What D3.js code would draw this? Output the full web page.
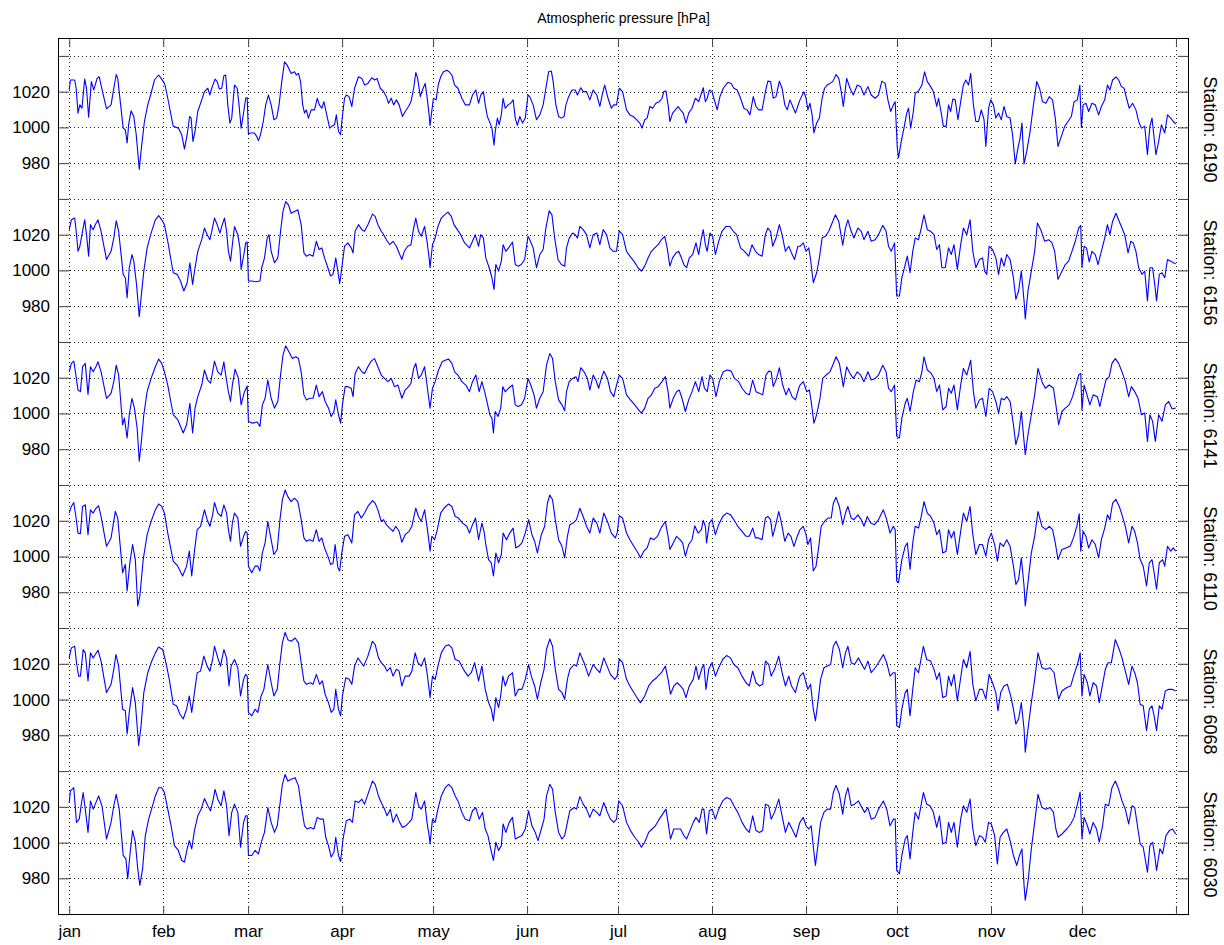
<!DOCTYPE html>
<html>
<head>
<meta charset="utf-8">
<script src="https://cdn.jsdelivr.net/npm/d3@7"></script>
<style>
  body { margin: 0; background: #fff; }
  text { font-family: "Liberation Sans", Arial, Helvetica, sans-serif; fill: #000; }
</style>
</head>
<body>
<svg id="chart" width="1224" height="945"></svg>
<script>
// ---- data ----
const stations = ["6190", "6156", "6141", "6110", "6068", "6030"];
const months = ["jan", "feb", "mar", "apr", "may", "jun", "jul", "aug", "sep", "oct", "nov", "dec"];
const monthStarts = [0, 31, 59, 90, 120, 151, 181, 212, 243, 273, 304, 334, 365];
const yTickLabels = [980, 1000, 1020];

// [day of year, pressure hPa]
const s6190 = [[0,1021],[0.4,1026.5],[1.8,1026.5],[2.3,1021.9],[2.9,1008],[3.5,1012.6],[4.2,1010.7],[5.1,1027],[5.7,1022],[6.4,1005.7],[7.3,1025.6],[8.1,1021],[9.2,1027.4],[9.9,1028.3],[10.5,1023.7],[12.3,1010.4],[13.8,1012.6],[14.7,1021.9],[15.5,1029.6],[16,1027.4],[17.8,999.6],[18.5,998.7],[19.1,991.3],[19.6,1001.5],[20.4,1009.3],[21.3,1006.1],[22.1,995.9],[23.1,976.5],[23.7,986.7],[24.8,1003.3],[25.9,1012.6],[27,1019.1],[28.1,1026.5],[29.5,1029.3],[30.3,1027.4],[31.2,1025.2],[31.6,1023.7],[32.5,1016.3],[34.3,1000.6],[36,999.6],[37.1,995.9],[38,988],[38.9,995.9],[39.7,1006.1],[40.2,1005.2],[40.8,992.2],[41.5,997.8],[42.4,1008.9],[43.7,1015.4],[44.6,1020],[45.7,1021.9],[46.4,1018.1],[47,1021.9],[48.1,1027],[48.8,1025.6],[49.5,1021.5],[50.3,1021.9],[51,1028.9],[51.6,1029.3],[52.3,1012.6],[53,1002.4],[53.6,1005.2],[54.5,1023.7],[55.4,1021.9],[56,1012.6],[56.7,999.6],[57.4,1007],[58.2,1016.3],[58.7,1016.7],[59.1,996.3],[59.8,996.9],[61.1,996.9],[61.8,995],[62.4,992.6],[63.1,995.9],[64,1003.3],[64.8,1012.6],[65.7,1018.1],[66.6,1012.6],[67.5,1004.3],[68.4,1005.2],[69.2,1012.6],[70.1,1025.6],[71,1036.7],[71.9,1034.8],[73.2,1030.2],[74.3,1031.1],[74.9,1029.3],[75.6,1030.2],[76.3,1025.6],[77,1012.6],[77.6,1008],[78.2,1009.8],[78.9,1005.2],[79.8,1009.8],[80.9,1009.8],[81.8,1016.3],[82.5,1012.6],[83.3,1010.7],[84,1014.4],[84.8,1008],[85.9,999.6],[86.6,1000.6],[87.5,1001.5],[88.1,1007],[88.8,997.8],[89.5,995.9],[89.9,1003.3],[90.8,1016.3],[91.4,1018.1],[92.3,1017.2],[93.2,1011.7],[94.1,1021.9],[95.4,1028.3],[96.5,1027.4],[97.4,1023.7],[98.5,1024.6],[99.8,1027.8],[100.7,1026.5],[101.5,1027.4],[102.6,1021.9],[103.7,1020],[104.6,1017.2],[105.3,1013.5],[106.2,1016.3],[107,1012.6],[107.9,1015.4],[108.8,1012.6],[109.9,1006.1],[110.8,1008.9],[111.9,1011.7],[112.7,1014.4],[113.6,1021.9],[114.3,1030.7],[114.9,1027.4],[115.8,1017.2],[116.5,1020.9],[117.4,1024.6],[118,1017.2],[118.7,1007],
[119,1001],[120.1,1016.3],[121,1015.4],[121.7,1023.7],[122.5,1028.3],[123.4,1031.1],[124.5,1032],[125.3,1031.1],[126.2,1029.3],[127.1,1023.7],[128.2,1021.9],[129.5,1016.3],[130.6,1012.6],[132,1012.6],[133,1018.1],[134.1,1020.9],[135,1013.5],[135.7,1018.1],[136.6,1020],[137.2,1012.6],[137.9,1006.1],[138.8,1002.4],[139.4,999.6],[140.1,990],[140.5,997.8],[141.2,1005.2],[141.8,1001.5],[142.5,1007],[143.1,1016.3],[143.8,1010.7],[144.7,1012.6],[145.6,1013.5],[146.4,1015.4],[147.1,1005.2],[147.8,1001.1],[148.6,1006.1],[149.5,1002.4],[150.4,1005.2],[151.3,1018.1],[151.9,1017.2],[153,1012.6],[154.1,1004.3],[155.2,1007],[156.3,1012.6],[157.2,1021.9],[158.1,1031.1],[159,1031.5],[159.6,1025.6],[160.5,1012.6],[161.4,1006.1],[162.3,1005.2],[163.2,1006.1],[163.8,1012.6],[164.7,1017.2],[165.8,1020.9],[166.9,1020.9],[167.6,1018.1],[168.7,1022.2],[169.5,1020],[170.6,1020],[171.7,1015.4],[172.8,1020.9],[174,1018.1],[175,1011.7],[175.9,1019.1],[176.6,1023.7],[177.7,1016.3],[178.8,1010.7],[179.6,1012.6],[180.5,1012.6],[181.4,1021.9],[182.5,1020],[183.8,1009.8],[184.9,1007],[186,1006.1],[187.1,1004.3],[188.2,1002.4],[188.9,999.6],[189.8,1004.3],[190.6,1005.2],[191.5,1011.7],[192.4,1010.7],[193.5,1013.5],[194.6,1014.4],[195.5,1016.3],[196.1,1020],[196.8,1020.4],[197.5,1012.6],[198.1,1003.3],[199,1008],[199.9,1009.8],[200.8,1011.7],[201.6,1009.8],[202.5,1008],[203.4,1002.4],[204.3,1008],[205.4,1010.7],[206.5,1016.3],[207.6,1014.4],[208.5,1019.1],[209.1,1022.2],[209.8,1014.4],[210.4,1016.3],[211.1,1020.9],[212,1020],[212.6,1016.3],[213.7,1009.8],[214.6,1017.2],[215.7,1021.9],[217.2,1025.2],[218.3,1024.6],[219.2,1021.9],[220.3,1020.9],[221.4,1016.3],[222.5,1010.7],[223.6,1009.8],[224.5,1007],[225.6,1017.2],[226.5,1011.7],[227.4,1009.8],[228.5,1009.8],[229.6,1020],[230.4,1025.9],[231.3,1025.6],[232.2,1016.3],[233.1,1017.2],[234.2,1025.9],[235.1,1021.9],[236,1012.6],[236.8,1009.8],[237.7,1015.4],[238.6,1011.7],[239.5,1008],[240.6,1013.5],
[241,1015.4],[242.3,1020],[243,1016.3],[243.6,1009.8],[244.3,1013.5],[245,1007],[245.6,996.9],[246.5,1002.4],[247.4,1005.2],[248.3,1016.3],[249.1,1021.9],[250,1023.7],[250.9,1024.6],[251.8,1025.6],[252.9,1029.6],[253.8,1027.4],[254.6,1020],[255.3,1011.7],[256.4,1027.4],[257.5,1021.9],[258.6,1018.1],[259.9,1023.7],[261,1022.8],[262.1,1018.1],[263.4,1022.8],[264.5,1018.1],[265.8,1016.3],[266.9,1018.1],[268,1025.9],[269.1,1024.6],[270,1015.4],[270.9,1008.9],[271.8,1012.6],[272.4,1014.4],[273.1,988.5],[273.5,983],[274.4,992.2],[275.3,999.6],[276.2,1008],[276.8,1010.7],[277.5,999.6],[278.4,1008.9],[279,1019.1],[280.1,1020.4],[281.2,1023.7],[282.1,1031.1],[283,1025.6],[284.1,1022.8],[285,1020],[286.1,1011.7],[286.7,1016.3],[287.6,1008],[288.3,1000.6],[289.2,1000.6],[290,1012.6],[290.7,1008.9],[291.4,1015.9],[292.2,1015.4],[293.1,1004.3],[294,1014.4],[294.9,1023.7],[295.7,1026.5],[296.6,1023.7],[297.3,1030.2],[298.2,1012.6],[299,1003.3],[299.9,1003.3],[300.8,1009.8],[301.7,1004.3],[302.3,989.4],[303.2,1010.7],[303.9,1015.4],[304.8,1012.6],[305.6,1005.2],[306.5,1008],[307.4,1004.3],[308.3,1011.7],[309.2,1006.1],[310.3,1005.2],[311.1,996],[312,979.6],[312.9,988.5],[313.6,994.1],[314.2,1002.4],[314.9,979.6],[315.8,986.7],[316.9,997.8],[318,1012.6],[319.1,1025.6],[320,1021.9],[321,1014.4],[322.1,1013.5],[323.2,1017.2],[324.3,1015.4],[325.2,1005.2],[326.1,989.4],[327.2,995],[328.3,1000.6],[329.4,1003.3],[330.5,1006.1],[331.4,1014.4],[332.5,1015.4],[333.3,1023.7],[333.8,1000],[334.4,1012.6],[335.3,1013.5],[336.2,1008.9],[337.3,1013.5],[338.4,1012.6],[339.5,1007],[340.4,1011.7],[341.5,1015.4],[342.4,1023.7],[343.2,1020.9],[344.1,1026.5],[345.2,1028.3],[346.1,1026.5],[347,1022.8],[347.9,1021.9],[348.7,1016.3],[349.6,1010.7],[350.7,1013.5],[351.8,1009.8],[352.7,1003.3],[353.6,999.6],[354.7,1000.6],[355.6,984.8],[356.4,1000.6],[357.1,1005.2],[357.8,994.1],[358.4,984.8],[359.3,992.2],[360.2,1001.5],[361.3,996.9],[362.2,1007],[363.3,1005.2],[364.1,1003.3],[364.9,1001.9]];

const s6156 = [[0,1022.8],[0.7,1028.3],[1.8,1029.3],[2.3,1021.9],[2.9,1010.7],[3.5,1013.5],[4.2,1020],[5.1,1028.3],[5.7,1020],[6.4,1008],[7,1025.6],[7.9,1022.8],[8.6,1025.6],[9.5,1028.3],[10.5,1021.9],[12.3,1006.1],[13.8,1010.7],[14.7,1018.1],[15.5,1027.8],[16.3,1021.9],[17.8,997.8],[18.5,995.9],[19.1,984.8],[19.8,1001.5],[20.7,1008.9],[21.3,1005.2],[22.2,992.2],[23.1,974.1],[23.7,984.8],[24.6,999.6],[25.7,1012.6],[27,1020.9],[28.4,1028.3],[29.5,1030.7],[30.5,1028.3],[31.4,1025.6],[32.5,1016.3],[34.3,998.7],[35.6,997.8],[36.7,994.1],[37.8,988.5],[38.9,993.1],[39.8,1004.3],[40.7,992.2],[41.5,1001.5],[42.4,1010.7],[43.7,1017.2],[44.6,1023.7],[45.5,1020],[46.4,1017.2],[47,1021.9],[47.9,1029.3],[48.8,1025.6],[49.7,1020.9],[50.3,1024.6],[51.2,1029.3],[51.9,1021.9],[52.5,1010.7],[53.2,1005.2],[53.8,1014.4],[54.5,1024.6],[55.6,1020],[56.3,1012.6],[56.7,1000.6],[57.6,1008.9],[58.2,1015.4],[58.7,1015.9],[59.1,994.1],[60.2,994.1],[61.5,993.7],[62.9,994.1],[63.5,1001.5],[64.4,1007],[65.3,1018.1],[65.9,1020],[66.6,1010.7],[67.7,1004.3],[68.8,1007],[69.7,1021.9],[70.5,1033],[71.4,1038.5],[72.3,1036.7],[73.2,1032],[74.3,1033],[75.4,1033.9],[76.5,1025.6],[77.4,1009.8],[78.2,1008],[79.3,1008.9],[80.4,1008],[81.5,1016.3],[82.4,1011.7],[83.3,1012.6],[84.2,1007],[85.3,1001.5],[86.2,996.9],[87,997.8],[87.9,1007],[88.6,999.6],[89.2,992.6],[89.9,1001.5],[90.8,1013.5],[91.9,1015.4],[93,1012.6],[93.6,1009.8],[94.3,1021.9],[95.4,1025.6],[96.5,1022.8],[97.4,1021.9],[98.5,1025.6],[100,1031.5],[100.9,1030.2],[101.8,1025.6],[102.9,1021.9],[103.7,1020],[104.6,1017.2],[105.7,1014.4],[106.8,1016.3],[107.9,1013.5],[109,1008.9],[109.7,1006.1],[110.5,1010.7],[111.6,1013.5],[112.7,1014.4],[113.6,1023.7],[114.3,1029.3],[115.2,1021.9],[116.1,1019.1],[117.2,1024.6],[118,1016.3],[118.7,1007],
[119,1001.5],[119.8,1014.4],[120.7,1018.1],[121.6,1024.6],[122.7,1029.3],[123.8,1031.1],[124.9,1032.6],[126,1030.2],[126.9,1025.6],[128,1022.8],[129.1,1020],[130.4,1015.4],[132,1012.6],[133,1016.3],[133.9,1020],[135,1013.5],[135.7,1020],[136.6,1018.1],[137.4,1007],[138.5,1001.5],[139.4,995.9],[140.1,989.4],[140.7,1003.3],[141.6,999.6],[142.5,1005.2],[143.1,1014.4],[144,1010.7],[144.9,1012.6],[146.2,1015.9],[147.1,1003.3],[148,1002.4],[149.1,1003.3],[150.2,1006.1],[151.3,1019.1],[151.9,1017.2],[153,1012.6],[154.1,1001.5],[155.2,1008.9],[156.3,1011.7],[157.2,1023.7],[158.3,1033.3],[159.2,1031.1],[160.1,1018.1],[161.2,1006.1],[162.3,1003.3],[163.4,1002.4],[164,1012.6],[164.9,1018.1],[166,1020.9],[166.9,1020],[167.6,1018.1],[168.4,1024.6],[169.5,1022.8],[170.6,1020],[171.7,1012.6],[172.8,1020],[174,1020.9],[175,1014.4],[176.1,1022.8],[177.2,1020],[178.3,1012.6],[179.4,1010.7],[180.5,1010.7],[181.4,1022.2],[182.5,1020],[183.8,1010.7],[184.9,1008],[186.2,1005.2],[187.6,1001.5],[188.7,999.6],[189.8,1002.4],[190.9,1007],[192,1010.7],[193.1,1012.6],[194.2,1014.4],[195.3,1017.2],[196.4,1019.1],[197.2,1012.6],[198.1,1002.4],[199,1007],[200.1,1009.8],[201,1010.7],[201.9,1007],[202.7,1003.3],[203.6,1001.5],[204.5,1007],[205.6,1008.9],[206.7,1015.4],[207.6,1008.9],[208.5,1018.1],[209.1,1022.8],[209.8,1014.4],[210.4,1010.7],[211.3,1020.9],[212.2,1019.1],[213.1,1008.9],[214.2,1016.3],[215.3,1021.9],[216.6,1024.6],[217.9,1024.6],[219,1021.9],[220.1,1020],[221.4,1012.6],[222.7,1010.7],[224.1,1008],[225.2,1014.4],[226.3,1010.7],[227.4,1008.9],[228.5,1008],[229.6,1020],[230.4,1023.7],[231.3,1021.9],[232,1013.5],[233.1,1018.1],[234.2,1025.6],[235.1,1020],[236.2,1010.7],[237.3,1013.5],[238.2,1009.8],[239.2,1006.1],[240.3,1013.5],
[241,1013.5],[242.1,1015.4],[243,1010.7],[243.9,1012.6],[244.5,1006.1],[245.4,993.1],[246.5,998.7],[247.4,1007],[248.3,1018.1],[249.4,1019.1],[250.5,1021.9],[251.6,1026.5],[252.7,1031.1],[253.8,1027.4],[255.1,1014.1],[256,1023.7],[256.8,1028.3],[257.9,1021.9],[258.8,1018.1],[260.1,1023.7],[261.2,1021.9],[262.1,1017.2],[263.4,1021.9],[264.5,1016.3],[265.8,1017.2],[266.9,1020],[268.3,1025.2],[269.4,1021.9],[270.2,1013.5],[271.1,1010.7],[272.2,1015.4],[272.9,985.7],[273.8,985.7],[274.6,995.9],[275.7,1003.3],[276.4,1008],[277.3,998.7],[278.2,1010.7],[279,1018.1],[280.1,1017.2],[281,1023.7],[281.9,1031.1],[283,1022.8],[284.1,1021.9],[285.2,1020],[286.1,1011.7],[287,1014.4],[287.8,1001.5],[288.9,1001.5],[290,1012.6],[290.9,1008.9],[291.8,1014.4],[292.9,1000.6],[294,1014.4],[294.9,1023.7],[296,1020],[297.1,1028.3],[298,1010.7],[299,1001.5],[300.2,1006.1],[301.2,1007],[301.9,999.6],[302.6,997.8],[303.4,1013.5],[304.5,1011.7],[305.6,1007],[306.5,997.8],[307.4,1007],[308.3,1002.4],[309.2,1008.9],[310.3,1006.1],[311.4,995.9],[312.2,983.9],[313.1,988.5],[314,999.6],[314.9,983],[315.3,972.8],[316.2,988.5],[317.3,999.6],[318.4,1010.7],[319.3,1026.5],[320.4,1022.8],[321.7,1016.3],[323,1017.2],[324.1,1015.4],[325,1010.7],[326.1,995],[327.4,999.6],[328.5,1003.3],[329.6,1005.2],[330.7,1010.7],[331.8,1016.3],[332.9,1023.7],[333.6,1025.2],[334,1001.5],[334.7,1013.5],[335.5,1012.6],[336.4,1004.8],[337.3,1010.7],[338.4,1008.9],[339.3,1003.3],[340.4,1010.7],[341.5,1018.1],[342.4,1025.6],[343.2,1020],[344.1,1027.4],[345.2,1032],[346.3,1027.4],[347.2,1023.7],[348.1,1020],[349.2,1009.8],[350.1,1016.3],[350.9,1015.4],[351.8,1010.7],[352.7,1001.5],[353.8,997.8],[354.7,999.6],[355.6,983],[356.4,1001.5],[357.3,1001.5],[358,992.2],[358.6,983],[359.5,997.8],[360.4,998.7],[361.3,995.9],[362.2,1006.1],[363.3,1005.2],[364.1,1004.3],[364.9,1003.7]];

const s6141 = [[0,1023.3],[0.7,1028],[1.5,1029.3],[2.2,1021.5],[2.9,1013.1],[3.7,1012.2],[4.4,1026.1],[5.3,1028],[6.2,1010.7],[7,1026.1],[7.9,1023.3],[8.8,1026.1],[9.5,1028.9],[10.5,1023.3],[12.3,1008.5],[13.8,1011.3],[14.7,1017.8],[15.5,1027],[16.3,1021.5],[17.6,993.7],[18.2,997.4],[19.1,986.3],[19.8,999.3],[20.7,1008.5],[21.5,1003],[22.4,991.9],[23.1,973.3],[23.7,982.6],[24.6,999.3],[25.7,1012.2],[27,1019.6],[28.4,1026.1],[29.5,1030.4],[30.5,1028],[31.4,1023.3],[32.5,1015.9],[34.3,999.3],[35.8,996.5],[37.6,989.1],[38.7,993.7],[39.8,1005.7],[40.7,989.1],[41.5,1003],[42.4,1009.4],[43.7,1015.9],[44.6,1024.3],[45.7,1018.7],[46.6,1016.9],[47.3,1023.3],[47.9,1029.3],[49,1023.3],[50.1,1021.5],[51,1028.9],[51.6,1021.5],[52.5,1012.2],[53.2,1006.7],[53.8,1015.9],[54.7,1024.8],[55.8,1019.6],[56.7,1004.8],[57.8,1012.2],[58.7,1015.4],[59.1,995.6],[60.4,994.6],[62,995.2],[62.9,992.8],[63.7,1004.8],[64.6,1008.5],[65.5,1018.7],[66.6,1008.5],[67.7,1003],[68.8,1006.7],[69.7,1021.5],[70.5,1032.6],[71.4,1037.8],[72.5,1034.4],[73.6,1030.7],[74.7,1031.7],[75.6,1030.7],[76.5,1023.3],[77.4,1010.4],[78.2,1007.6],[79.3,1008.5],[80.4,1008.5],[81.5,1015.9],[82.4,1009.4],[83.5,1012.2],[84.4,1006.7],[85.5,1003],[86.4,998.3],[87.3,1001.1],[87.9,1007.6],[88.8,999.3],[89.5,994.6],[90.1,1004.8],[91,1015],[91.9,1015],[93,1014.1],[93.6,1009.4],[94.3,1022.4],[95.4,1026.1],[96.5,1023.3],[97.4,1022.4],[98.5,1026.1],[99.6,1029.3],[100.7,1030.7],[101.8,1026.1],[102.9,1021.5],[104,1019.6],[105.1,1017.8],[106.2,1019.6],[107.3,1015],[108.4,1015.9],[109.7,1008.5],[110.8,1013.1],[111.9,1015],[112.7,1016.9],[113.6,1025.2],[114.3,1028],[115.2,1019.6],[116.1,1021.5],[117.2,1026.1],[118,1015.9],[118.7,1006.7],
[119,1003],[119.8,1014.1],[120.7,1017.8],[121.8,1024.3],[123,1028.9],[124,1029.8],[125.1,1030.4],[126.2,1028],[127.1,1023.3],[128.2,1021.5],[129.5,1017.8],[130.8,1015.9],[132,1012.2],[133,1017.8],[134.1,1021.5],[135.2,1012.2],[136.1,1017.8],[137,1012.2],[137.9,1005.7],[138.7,999.3],[139.4,997.4],[139.9,989.1],[140.5,1001.1],[141.4,998.3],[142.3,1003],[143,1015],[143.8,1012.2],[144.9,1014.1],[146.2,1015.9],[147.1,1004.8],[148,1003.9],[149.1,1004.8],[150.2,1008.5],[151.3,1019.6],[152.2,1015.9],[153.3,1010.4],[154.1,1003],[155.2,1008.5],[156.3,1012.2],[157.4,1027],[158.5,1033.5],[159.4,1030.7],[160.3,1017.8],[161.4,1007.6],[162.5,1004.8],[163.4,1001.5],[164,1012.2],[164.9,1017.8],[166,1019.6],[167.1,1020.6],[167.8,1017.8],[168.7,1025.6],[169.8,1023.3],[170.9,1019.6],[171.7,1013.1],[172.8,1021.5],[173.7,1018.7],[174.6,1014.1],[175.5,1019.6],[176.3,1023.7],[177.5,1019.6],[178.5,1012.2],[179.6,1009.4],[180.5,1015.9],[181.4,1021.5],[182.5,1019.6],[183.8,1010.4],[185.1,1007.6],[186.5,1004.8],[187.8,1002],[188.7,1000.2],[189.8,1003],[190.9,1008.5],[192,1010.4],[193.1,1014.1],[194.2,1015],[195.5,1017.8],[196.6,1020.6],[197.5,1012.2],[198.1,1003],[199.2,1008.5],[200.3,1012.2],[201.2,1013.1],[202.1,1008.5],[203.2,1001.1],[204.3,1007.6],[205.4,1012.2],[206.5,1017.8],[207.6,1012.2],[208.7,1020.6],[209.5,1014.1],[210.4,1012.2],[211.3,1021.5],[212.2,1019.6],[213.3,1009.4],[214.4,1017.8],[215.7,1023.3],[217,1024.3],[218.3,1023.7],[219.4,1019.6],[220.8,1017.8],[221.9,1014.1],[223.2,1011.3],[224.3,1010.4],[225.4,1018.7],[226.5,1012.2],[227.6,1011.3],[228.7,1010.4],[229.8,1021.5],[230.7,1023.7],[231.5,1023.3],[232.2,1015],[233.3,1019.6],[234.2,1025.6],[235.3,1015.9],[236.4,1010.4],[237.3,1014.1],[238.4,1009.4],[239.5,1007.6],[240.6,1014.1],
[241,1015.9],[242.1,1017.8],[243.2,1012.2],[244.1,1013.1],[244.7,1006.7],[245.6,994.6],[246.5,999.3],[247.6,1008.5],[248.5,1019.6],[249.6,1021.5],[250.9,1023.3],[251.8,1027],[252.9,1031.7],[254,1028],[255.3,1015],[256.4,1026.1],[257.5,1022.4],[258.6,1019.6],[259.9,1023.3],[261,1021.5],[262.1,1017.8],[263.4,1023.3],[264.5,1018.7],[265.8,1019.6],[266.9,1021.5],[268.3,1027],[269.4,1023.3],[270.2,1014.1],[271.1,1012.2],[272.2,1015.9],[272.9,987.2],[273.8,986.3],[274.6,997.4],[275.7,1005.7],[276.4,1008.5],[277.3,1001.1],[278.4,1012.2],[279.3,1018.7],[280.4,1017.8],[281.2,1023.3],[281.9,1031.7],[283,1024.3],[284.3,1022.4],[285.2,1019.6],[286.1,1012.2],[287,1015.9],[288.1,1002],[289.2,1003.9],[290,1014.1],[290.9,1011.3],[291.8,1015.9],[292.9,1002],[294,1015.9],[294.9,1025.2],[296,1021.5],[297.3,1029.8],[298.2,1012.2],[299,1003],[300.2,1007.6],[301.2,1008.5],[302.3,998.3],[303.4,1014.1],[304.5,1012.2],[305.6,1006.7],[306.5,1000.2],[307.4,1008.5],[308.3,1007.6],[309.2,1009.4],[310.3,1006.7],[311.4,993.7],[312.2,982.6],[313.1,988.1],[314,1001.1],[314.9,984.4],[315.3,977],[316.2,988.1],[317.3,999.3],[318.4,1010.4],[319.5,1025.2],[320.8,1017.8],[321.9,1014.1],[323.2,1015.9],[324.6,1014.1],[325.4,1004.8],[326.3,993.7],[327.4,1001.1],[328.5,1003],[329.8,1004.8],[330.9,1009.4],[332,1015.9],[332.9,1021.5],[333.6,1022.4],[334,1002],[334.7,1015.9],[335.5,1011.3],[336.6,1004.8],[337.7,1010.4],[339.1,1009.4],[339.9,1003.9],[341,1012.2],[341.9,1018.7],[343,1020.6],[343.9,1028],[345,1030.7],[346.1,1028],[347.2,1023.3],[348.3,1017.8],[349.4,1009.4],[350.3,1015],[351.4,1012.2],[352.5,1008.5],[353.6,999.3],[354.7,1000.2],[355.6,984.4],[356.4,999.3],[357.3,995.6],[358.2,984.4],[359.3,999.3],[360.4,995.6],[361.5,1004.8],[362.6,1006.7],[363.7,1002.6],[364.9,1003]];

const s6110 = [[0,1024.3],[0.7,1028],[1.5,1030.2],[2.2,1022.4],[2.9,1013.1],[3.7,1012.8],[4.4,1028],[5.3,1028.9],[6.2,1012.2],[7,1026.1],[7.9,1024.3],[8.8,1027],[9.7,1028.3],[10.5,1022.4],[12.3,1005.7],[13.8,1010.4],[15.2,1025.2],[16,1021.5],[17.6,990.9],[18.5,995.6],[19.1,980.7],[20,996.5],[20.9,1006.7],[21.8,998.3],[22.6,972.4],[23.3,978],[24.4,998.3],[25.7,1012.2],[27,1019.6],[28.4,1026.1],[29.5,1029.4],[30.5,1028],[31.4,1024.3],[32.5,1013.1],[34.3,997.4],[35.8,994.6],[37.4,989.1],[38.7,994.6],[39.6,1003],[40.4,989.1],[41.3,1003],[42.2,1015],[43.3,1016.9],[44.6,1026.1],[45.5,1020.6],[46.4,1016.9],[47.3,1023.3],[47.9,1030.2],[49,1024.3],[50.1,1022.4],[51,1028.9],[51.9,1024.3],[52.5,1015],[53.2,1008.5],[53.8,1018.7],[54.5,1024.3],[55.6,1021.5],[56.5,1005.7],[57.5,1011.3],[58.2,1014.1],[58.7,1013.1],[59.1,994.6],[60.2,990.9],[61.3,994.6],[62.2,994.6],[62.9,991.9],[63.7,1002],[64.6,1007.6],[65.5,1019.6],[66.6,1009.4],[67.5,1001.1],[68.6,1003.9],[69.5,1020.6],[70.3,1031.7],[71.2,1037.2],[72.1,1033.5],[73.2,1030.7],[74.3,1032.6],[75.4,1030.7],[76.5,1020.6],[77.4,1010.4],[78.2,1008.5],[79.3,1009.4],[80.4,1008.5],[81.5,1015],[82.4,1008.5],[83.3,1010.4],[84.2,1004.8],[85.3,1000.2],[86.2,995.6],[87,996.1],[87.7,1006.7],[88.6,993.7],[89.2,991.9],[89.9,1002],[90.8,1011.3],[91.9,1012.2],[93.2,1007.6],[94.1,1023.3],[95.2,1025.2],[96.3,1021.5],[97.4,1024.3],[98.5,1028],[100,1031.3],[100.9,1029.8],[101.8,1026.1],[102.9,1019.6],[103.7,1020.6],[104.6,1017.8],[105.7,1015.9],[106.8,1014.1],[107.7,1016.9],[108.8,1014.1],[109.7,1008],[110.8,1012.2],[112.1,1014.1],[113,1016.9],[114.3,1027],[115.2,1022.4],[116.1,1019.6],[117.2,1026.1],[118,1016.9],[118.7,1007.6],
[119,1003],[119.6,1011.3],[120.5,1009.4],[121.4,1015],[122.5,1024.3],[123.6,1027],[125.1,1029.4],[126.2,1028],[127.3,1022.4],[128.4,1021.5],[129.7,1018.7],[131.1,1016.9],[132,1013.1],[133,1017.8],[134,1021.5],[135,1009.4],[136.1,1018.7],[136.8,1014.1],[137.4,1006.7],[138.3,998.3],[139.2,996.5],[139.9,989.1],[140.7,1002],[141.6,996.5],[142.5,1001.1],[143.1,1013.1],[144.2,1009.4],[145.3,1013.1],[146.4,1015.9],[147.3,1004.8],[148.2,1005.7],[149.3,1007.6],[150.4,1013.1],[151.5,1020.6],[152.6,1012.2],[153.5,1008.5],[154.4,1002],[155.7,1012.2],[156.8,1016.9],[157.7,1029.8],[158.5,1034.4],[159.4,1031.7],[160.3,1020.6],[161.4,1009.4],[162.5,1005.7],[163.4,999.3],[164.3,1011.3],[165.1,1017.8],[166.2,1018.7],[167.3,1020.6],[168.4,1027],[169.5,1022.4],[170.6,1016.9],[171.7,1013.1],[172.8,1021.5],[174,1018.7],[175,1013.1],[176.3,1024.3],[177.7,1018.7],[178.8,1013.1],[180.1,1010.4],[180.7,1013.1],[181.4,1022.8],[182.5,1021.5],[183.8,1013.1],[184.9,1009.4],[186.2,1005.7],[187.6,1002],[188.4,999.3],[189.5,1003],[190.6,1004.8],[191.7,1010.4],[192.8,1009.4],[194,1011.3],[195.3,1016.3],[196.6,1019.6],[197.5,1011.3],[198.1,1003.9],[199.2,1007.6],[200.3,1011.3],[201.4,1009.4],[202.3,1007.6],[203.2,1000.2],[204.3,1006.7],[205.4,1009.4],[206.3,1017.2],[207.4,1013.1],[208.5,1015],[209.1,1020.2],[209.8,1016.9],[210.2,1007.6],[211.1,1018.7],[212,1020.6],[213.1,1012.2],[214.2,1017.8],[215.5,1022.4],[216.8,1024.3],[218.1,1023.3],[219.2,1020.6],[220.5,1016.9],[221.9,1014.1],[223.2,1011.3],[224.3,1011.3],[225.4,1015.9],[226.3,1010.4],[227.4,1010.4],[228.5,1009.4],[229.6,1021.5],[230.4,1022.4],[231.3,1020.6],[232,1011.3],[232.9,1016.9],[234,1025.2],[234.9,1018.7],[236,1008.5],[237.1,1013.1],[238,1011.3],[239,1005.7],[240.1,1011.3],
[241,1015],[242.1,1016.9],[243,1012.2],[243.6,1006.7],[244.5,1010.4],[245.4,991.9],[246.3,994.6],[247.2,1005.7],[248,1016.9],[249.1,1019.6],[250.2,1021.5],[251.3,1021.5],[252,1029.8],[252.9,1033.1],[254,1028],[255.1,1017.8],[256,1024.3],[256.8,1028],[257.9,1021.5],[258.8,1020.6],[260.1,1023.3],[261.2,1020.6],[262.1,1016.9],[263.2,1022.4],[264.3,1018.7],[265.6,1017.8],[266.9,1020.6],[268.5,1026.1],[269.6,1020.6],[270.7,1013.1],[271.8,1016.9],[272.4,1015],[272.9,986.3],[273.5,985.4],[274.6,998.3],[275.7,1005.7],[276.4,1007.6],[277.3,992.8],[278.2,1007.6],[279,1016.9],[280.1,1015.9],[281,1022.4],[281.9,1030.7],[283,1024.3],[284.1,1022.4],[285.2,1018.7],[286.1,1012.2],[287,1015],[288.1,1002],[289.2,1003],[290,1015],[290.9,1010.4],[291.8,1014.1],[292.9,1001.1],[294,1014.1],[294.9,1024.3],[296,1019.6],[297.1,1028],[298,1012.2],[299,1001.1],[300.2,1006.7],[301.2,1006.7],[302.3,1000.2],[303.2,1009.4],[304.1,1013.1],[305.2,1006.7],[306.1,997.4],[307,1007.6],[308.1,1005.7],[309.2,1009.4],[310.3,1005.7],[311.4,994.6],[312.2,984.4],[313.1,987.2],[314,999.3],[314.9,983.5],[315.3,972.4],[316.2,985.4],[317.3,1002],[318.4,1011.3],[319.5,1025.2],[320.8,1016.9],[322.1,1015],[323.2,1016.9],[324.3,1015],[325.2,1007.6],[326.1,998.3],[327.4,1003.9],[328.7,1004.8],[330.1,1005.7],[331.2,1010.4],[332.3,1016.9],[333.1,1023.9],[333.6,1003],[334.4,1014.1],[335.3,1011.3],[336.2,1004.8],[337.3,1009.4],[338.4,1006.7],[339.5,999.3],[340.4,1009.4],[341.5,1015.9],[342.4,1023.3],[343.2,1020.6],[344.1,1029.8],[345.2,1032],[346.3,1028],[347.2,1023.3],[348.3,1016.9],[349.4,1007.6],[350.5,1016.9],[351.4,1014.1],[352.3,1007.6],[353.2,998.3],[354.2,994.6],[355.3,983.5],[356.2,996.5],[357.1,998.3],[357.8,990.9],[358.6,981.7],[359.5,996.5],[360.6,998.3],[361.3,994.6],[362.2,1005.7],[363.3,1003],[364.1,1004.8],[364.9,1003]];

const s6068 = [[0,1023.3],[0.7,1028.9],[1.8,1029.8],[2.4,1020.6],[3.1,1013.1],[3.7,1013.1],[4.6,1028],[5.3,1026.1],[6.2,1010.4],[7,1026.1],[7.9,1023.3],[8.6,1025.2],[9.5,1027.6],[10.5,1021.5],[12.3,1003.9],[13.8,1008.5],[14.7,1016.9],[15.4,1025.2],[16.3,1018.7],[17.6,994.6],[18.5,993.7],[19.1,980.7],[19.8,992.8],[20.9,1006.7],[21.8,998.3],[22.9,974.3],[23.7,985.4],[24.6,1003.9],[25.9,1015],[27,1020.6],[28.4,1026.1],[29.5,1029.4],[30.8,1028],[31.9,1020.6],[33,1011.3],[34.3,997.4],[35.4,996.5],[36.5,991.9],[37.6,989.1],[38.7,994.6],[39.6,1002],[40.4,992.8],[41.3,1003.9],[42.2,1015],[43.3,1015.9],[44.4,1024.3],[45.5,1018.7],[46.4,1015.9],[47.3,1022.4],[47.9,1029.8],[49,1023.3],[49.9,1018.7],[51,1028],[51.9,1023.3],[52.7,1007.6],[53.4,1018.7],[54.5,1022.4],[55.6,1017.8],[56.5,1002],[57.5,1011.3],[58.2,1014.1],[58.7,1013.1],[59.1,992.8],[60.2,990.9],[61.3,994.6],[62.2,992.8],[63.3,1002],[64.2,1005.7],[65.5,1019.6],[66.6,1009.4],[67.5,1002],[68.6,1005.7],[69.5,1020.6],[70.3,1031.7],[71.2,1037.6],[72.1,1033.5],[73.2,1032.6],[74.5,1034.4],[75.6,1031.7],[76.5,1020.6],[77.4,1010.4],[78.2,1008.5],[79.6,1009.4],[80.4,1008.5],[81.5,1014.1],[82.6,1008.5],[83.5,1010.4],[84.4,1003],[85.5,998.3],[86.4,992.8],[87.3,994.6],[87.9,1005.7],[88.8,994.6],[89.5,990.9],[90.1,1002],[91.2,1012.2],[92.3,1011.3],[93.2,1008.5],[94.1,1018.7],[95.2,1023.3],[96.3,1020.6],[97.1,1018.7],[98.5,1024.3],[100,1032.6],[100.9,1030.7],[102,1023.3],[102.9,1020.6],[104,1018.7],[104.8,1015.9],[105.9,1017.8],[106.8,1013.1],[107.9,1016.9],[108.8,1015.9],[109.7,1007.6],[110.8,1013.1],[112.1,1013.1],[113,1015.9],[114.1,1026.1],[115,1020.6],[116.1,1018.7],[117.2,1023.3],[118,1015],[118.7,1005.7],
[119,1001.1],[119.8,1013.1],[120.7,1011.3],[121.6,1018.7],[122.7,1026.1],[124,1029.8],[125.1,1030.7],[126.2,1028.9],[127.3,1022.4],[128.6,1021.5],[130,1016.9],[131.5,1013.1],[132.6,1015],[133.7,1020.6],[135,1010.4],[136.1,1018.7],[137.2,1005.7],[138.3,998.3],[139.2,994.6],[139.9,988.1],[140.7,1001.1],[141.6,995.6],[142.3,1002],[143,1013.1],[143.8,1007.6],[144.9,1013.1],[146.2,1015],[147.1,1002],[148.2,1005.7],[149.3,1005.7],[150.4,1011.3],[151.5,1019.6],[152.4,1013.1],[153.5,1007.6],[154.4,1000.2],[155.5,1009.4],[156.6,1016.9],[157.4,1028],[158.5,1033.9],[159.4,1029.8],[160.3,1016.9],[161.4,1005.7],[162.5,1003.9],[163.4,1000.2],[164.3,1011.3],[165.1,1016.9],[166.5,1019.6],[167.3,1018.7],[168.4,1026.1],[169.8,1020.6],[171.3,1013.1],[172.8,1019.6],[174,1016.9],[175,1015],[176.3,1023.3],[177.4,1018.7],[178.5,1014.1],[179.9,1011.3],[180.7,1013.1],[181.4,1022.8],[182.5,1020.6],[183.8,1011.3],[184.9,1007.6],[186.2,1003.9],[187.6,1000.2],[188.4,998.3],[189.8,1002],[191.1,1007.6],[192.4,1010.4],[193.7,1012.2],[195.3,1015],[196.6,1018.7],[197.5,1011.3],[198.3,1003],[199.4,1007.6],[200.5,1009.4],[201.6,1007.6],[202.5,1005.7],[203.4,1001.1],[204.5,1007.6],[205.8,1011.3],[206.7,1018.7],[207.6,1011.3],[208.7,1017.8],[209.3,1019.6],[210,1005.7],[210.9,1016.9],[212,1020.6],[213.1,1013.1],[214.2,1017.8],[215.5,1022.4],[216.8,1024.6],[218.1,1023.3],[219.2,1019.6],[220.5,1017.8],[221.9,1013.1],[223.2,1009.4],[224.3,1007.6],[225.4,1015.9],[226.5,1009.4],[227.6,1007.6],[228.7,1008.5],[229.6,1021.5],[230.7,1019.6],[231.5,1013.1],[232.6,1016.9],[234,1024.3],[235.1,1015],[236.2,1007.6],[237.3,1013.1],[238.2,1007.6],[239.5,1003.9],[240.6,1011.3],
[241,1013.1],[242.1,1015],[243,1009.4],[243.6,1005.7],[244.5,1008.5],[245.4,994.6],[246.1,988.1],[246.9,998.3],[247.8,1011.3],[248.9,1017.8],[250,1018.7],[251.1,1019.6],[252,1029.8],[252.9,1032.6],[254,1028],[255.1,1017.8],[256,1026.1],[256.8,1029.8],[257.9,1020.6],[259,1019.6],[260.3,1023.3],[261.4,1019.6],[262.3,1016.9],[263.4,1021.5],[264.5,1015],[265.8,1017.8],[266.9,1020.6],[268.5,1025.2],[269.6,1020.6],[270.7,1013.1],[271.8,1015],[272.4,1015],[272.9,985.4],[273.8,984.4],[274.6,994.6],[275.7,1003.9],[276.4,1005.7],[277.3,990.9],[278.2,1005.7],[279,1017.8],[280.1,1015],[281,1023.3],[281.7,1029.8],[282.8,1022.4],[284.1,1021.5],[285.2,1016.9],[286.1,1011.3],[287,1015],[288.1,1001.1],[289.2,1002],[290,1013.1],[290.9,1007.6],[291.8,1014.1],[292.9,999.3],[294,1012.2],[294.9,1022.4],[296,1017.8],[297.1,1027],[298,1008.5],[299,999.3],[300.2,1005.7],[301.2,1005.7],[302.3,1000.2],[303.4,1014.1],[304.5,1009.4],[305.6,1003.9],[306.3,993.7],[307.2,1003.9],[308.3,1007.6],[309.4,1008.5],[310.5,1002],[311.4,994.6],[312.2,986.3],[313.1,989.1],[314,998.3],[314.9,983.5],[315.3,970.6],[316.2,983.5],[317.3,998.3],[318.4,1011.3],[319.5,1026.1],[320.8,1017.8],[322.1,1016.9],[323.5,1017.8],[324.8,1015],[325.7,1005.7],[326.3,1000.2],[327.4,1004.8],[329,1006.7],[330.3,1007.6],[331.4,1014.1],[332.5,1019.6],[333.4,1026.1],[334,1002],[334.7,1014.1],[335.8,1009.4],[336.6,1002],[337.7,1009.4],[338.8,1007.6],[339.7,998.3],[340.8,1008.5],[341.7,1016.9],[342.6,1020.6],[343.7,1020.6],[345,1033.5],[346.3,1028],[347.2,1023.3],[348.3,1015.9],[349.4,1008.5],[350.5,1018.7],[351.4,1015],[352.3,1009.4],[353.2,997.4],[354.2,996.5],[355.3,982.6],[356.2,994.6],[357.1,996.5],[357.8,990.9],[358.6,982.6],[359.5,996.5],[360.4,994.6],[361.5,1004.8],[362.6,1005.7],[363.7,1005.7],[364.9,1004.8]];

const s6030 = [[0,1022.4],[0.4,1028.9],[1.5,1030.7],[2.4,1011.3],[3.3,1013.1],[4,1021.5],[4.6,1028],[5.3,1018.7],[6.2,1005.7],[7,1023.3],[7.9,1018.7],[8.6,1021.5],[9.7,1026.1],[10.8,1020.6],[12.3,1002],[13.8,1011.3],[14.7,1020.6],[15.5,1027],[16.5,1018.7],[17.8,992.8],[18.7,990.9],[19.3,979.8],[20,992.8],[20.9,1006.7],[21.8,1000.2],[22.6,985.4],[23.3,976.1],[24.2,985.4],[25.1,1003.9],[26.2,1013.1],[27.3,1019.6],[28.4,1026.1],[29.5,1030.7],[30.5,1030.7],[31.4,1028],[32.5,1018.7],[33.6,1009.4],[34.7,998.3],[36,995.6],[37.1,990],[38,989.1],[38.9,996.5],[39.6,1001.1],[40.4,996.5],[41.3,1006.7],[42.4,1015],[43.5,1018.7],[44.6,1024.6],[45.7,1020.6],[46.6,1017.8],[47.5,1024.3],[48.1,1029.8],[49,1024.3],[50.1,1020.6],[51,1028.9],[51.9,1020.6],[52.7,1003.9],[53.6,1016.9],[54.5,1021.5],[55.6,1016.9],[56.5,997.4],[57.5,1011.3],[58.2,1015],[58.7,1015],[59.1,992.8],[60.2,992.8],[61.3,995.6],[62.4,993.7],[63.5,1001.1],[64.4,1005.7],[65.5,1019.6],[66.6,1011.3],[67.7,1005.7],[68.6,1009.4],[69.5,1021.5],[70.3,1032.6],[71.2,1038.1],[72.1,1034.4],[73.2,1035.4],[74.5,1036.3],[75.6,1031.7],[76.7,1018.7],[77.6,1009.4],[78.5,1007.6],[79.6,1008.5],[80.7,1007.6],[81.8,1014.1],[82.9,1013.1],[83.8,1013.1],[84.6,1003],[85.5,998.3],[86.4,991.9],[87.3,994.6],[87.9,1003],[88.8,992.8],[89.5,989.4],[90.3,1002],[91.4,1012.2],[92.5,1013.1],[93.4,1011.3],[94.3,1023.3],[95.4,1022.4],[96.5,1024.3],[97.4,1021.5],[98.5,1027],[100,1034.4],[100.9,1032.6],[102,1026.1],[102.9,1022.4],[104,1018.7],[104.8,1015],[105.9,1018.7],[106.8,1011.3],[107.9,1015.9],[109,1011.3],[109.9,1008.5],[111,1009.4],[112.1,1011.3],[113,1013.1],[114.3,1028],[115.2,1020.6],[116.1,1018.7],[117.2,1023.3],[118,1011.3],[118.7,1003.9],
[119,999.3],[119.8,1013.1],[120.7,1011.3],[121.6,1018.7],[122.7,1026.1],[124,1030.7],[125.1,1032.6],[126.2,1030.7],[127.3,1026.1],[128.2,1023.3],[129.5,1016.9],[130.6,1013.1],[132,1012.2],[133,1017.8],[134.1,1019.6],[135.2,1013.1],[136.3,1016.9],[137.2,1007.6],[138.1,1003.9],[139,996.5],[139.9,990],[140.7,1000.2],[141.6,995.6],[142.5,998.3],[143.1,1010.4],[144,1005.7],[145.1,1011.3],[146.2,1014.1],[147.1,1002],[148.2,1003],[149.3,1003.9],[150.4,1007.6],[151.5,1017.8],[152.6,1009.4],[153.7,1005.7],[154.6,1001.1],[155.7,1007.6],[156.6,1013.1],[157.4,1026.1],[158.5,1032.6],[159.4,1029.8],[160.3,1016.9],[161.4,1005.7],[162.5,1002],[163.4,1003.9],[164.3,1011.3],[165.1,1017.8],[166.5,1019.6],[167.3,1018.7],[168.4,1025.7],[169.5,1021.5],[170.6,1018.7],[171.7,1014.1],[172.8,1018.7],[174,1016.9],[175,1015],[176.3,1022.4],[177.5,1016.9],[178.5,1013.1],[179.6,1011.3],[180.5,1013.1],[181.2,1023.3],[182.5,1020.6],[183.8,1011.3],[185.1,1006.7],[186.5,1003],[187.8,1000.2],[188.7,997.4],[189.8,1000.2],[191.1,1005.7],[192.2,1007.6],[193.3,1009.4],[194.6,1013.1],[195.7,1015.9],[196.8,1018.7],[197.5,1011.3],[198.3,1002],[199.4,1007.6],[200.5,1007.6],[201.6,1007.6],[202.7,1003.9],[203.6,1002],[204.5,1005.7],[205.8,1011.3],[206.7,1014.1],[207.8,1011.3],[208.7,1018.7],[209.3,1018.7],[210.2,1004.8],[211.1,1017.8],[212,1018.7],[213.1,1013.1],[214.2,1018.7],[215.5,1023.3],[216.8,1025.2],[218.1,1024.3],[219.2,1020.6],[220.5,1016.9],[221.9,1011.3],[223.2,1007.6],[224.3,1005.7],[225.4,1015],[226.5,1006.7],[227.6,1005.7],[228.7,1006.7],[229.6,1021.5],[230.7,1020.6],[231.5,1013.1],[232.6,1016.9],[234,1024.3],[235.1,1015],[236.2,1005.7],[237.3,1011.3],[238.4,1007.6],[239.7,1003],[240.8,1010.4],
[241,1011.3],[242.1,1014.1],[243,1009.4],[243.9,1007.6],[244.7,1009.4],[245.6,994.6],[246.1,987.2],[246.9,998.3],[247.8,1011.3],[248.9,1016.9],[250,1018.7],[251.1,1018.7],[252,1028],[252.9,1032],[254,1027],[255.1,1015.9],[256,1026.1],[256.8,1030.7],[257.9,1020.6],[259,1021.5],[260.3,1023.3],[261.4,1019.6],[262.3,1016.9],[263.4,1019.6],[264.5,1013.1],[265.8,1014.1],[266.9,1018.7],[268.5,1023.3],[269.6,1018.7],[270.7,1009.4],[271.8,1013.1],[272.4,1013.1],[272.9,984.4],[273.8,982.6],[274.6,992.8],[275.7,1002],[276.4,1003.9],[277.3,990.9],[278.2,1005.7],[279,1016.9],[280.1,1013.1],[281,1021.5],[281.7,1028],[282.8,1021.5],[283.9,1020.6],[285,1016.9],[286.1,1008.5],[287,1015],[288.1,999.3],[289.2,1000.2],[290,1011.3],[290.9,1005.7],[291.8,1011.3],[292.9,997.4],[294,1013.1],[294.9,1020.6],[296,1016.9],[297.1,1024.3],[298,1007.6],[299,998.3],[300.2,1003.9],[301.2,1003],[302.1,1000.2],[303.2,1011.3],[304.1,1010.4],[305.2,1003.9],[306.1,988.1],[307,1003],[308.1,1005.7],[309.2,1007.6],[310.3,1001.1],[311.4,992.8],[312.5,987.2],[313.4,992.8],[314.2,996.5],[314.9,976.1],[315.3,967.8],[316.2,978],[317.3,996.5],[318.4,1011.3],[319.5,1027],[320.8,1019.6],[322.1,1018.7],[323.5,1019.6],[324.6,1016.9],[325.4,1007.6],[326.1,1003],[327.4,1004.8],[329,1007.6],[330.3,1010.4],[331.4,1014.1],[332.5,1021.5],[333.4,1028.3],[334,1002],[334.7,1014.1],[335.8,1009.4],[336.6,1004.8],[337.7,1011.3],[338.8,1007.6],[339.7,1000.2],[340.8,1009.4],[341.7,1021.5],[342.8,1020.6],[343.9,1030.7],[345,1034.4],[346.1,1029.8],[347.2,1023.3],[348.3,1018.7],[349.4,1010.4],[350.5,1020.6],[351.4,1019.6],[352.3,1009.4],[353.2,999.3],[354.2,997.4],[355.6,983.5],[356.4,998.3],[357.3,1000.2],[358,992.8],[358.6,984.4],[359.7,996.5],[360.6,993.7],[361.7,1003.9],[362.8,1006.7],[363.9,1007.6],[364.9,1004.8]];

const series = [s6190, s6156, s6141, s6110, s6068, s6030];

// ---- layout ----
const panelShift = 80;   // each station drawn 80 hPa lower than the one above
const frame = {left: 58, right: 1189, top: 38, bottom: 915};

const svg = d3.select("#chart");

const x = d3.scaleLinear().domain([-3.7, 369.3]).range([frame.left, frame.right]);
const y = d3.scaleLinear().domain([1050 - panelShift * 5 - 90.5, 1050]).range([frame.bottom, frame.top]);

const yTicks = d3.range(560, 1041, 20);
const labelOf = new Map();
stations.forEach((s, k) => yTickLabels.forEach(v => labelOf.set(v - panelShift * k, v)));

const crisp = v => Math.round(v) + 0.5;

// dotted grid
const grid = svg.append("g").attr("stroke", "#222").attr("stroke-width", 1).attr("stroke-dasharray", "1,3");
grid.selectAll(".hg").data(yTicks).enter().append("line")
    .attr("x1", frame.left).attr("x2", frame.right)
    .attr("y1", d => crisp(y(d))).attr("y2", d => crisp(y(d)));
grid.selectAll(".vg").data(monthStarts).enter().append("line")
    .attr("y1", frame.top).attr("y2", frame.bottom)
    .attr("x1", d => crisp(x(d))).attr("x2", d => crisp(x(d)));

// pressure lines
const line = d3.line();
svg.append("g").selectAll("path")
    .data(series)
    .enter().append("path")
    .attr("d", (d, k) => line.x(p => x(p[0])).y(p => y(p[1] - panelShift * k))(d))
    .attr("fill", "none")
    .attr("stroke", "#0000ff")
    .attr("stroke-width", 1.1)
    .attr("stroke-linejoin", "round");

// axes
const styleAxis = g => {
    g.select(".domain").remove();
    g.selectAll(".tick line").attr("stroke", "#444");
    g.selectAll(".tick text").attr("fill", "#000").attr("font-family", null);
};

svg.append("g").attr("transform", `translate(${frame.left},0)`)
    .call(d3.axisLeft(y).tickValues(yTicks).tickSize(-11).tickPadding(8)
        .tickFormat(d => labelOf.has(d) ? labelOf.get(d) : ""))
    .call(styleAxis)
    .selectAll("text").attr("font-size", 17);

svg.append("g").attr("transform", `translate(${frame.right},0)`)
    .call(d3.axisRight(y).tickValues(yTicks).tickSize(-11).tickFormat(""))
    .call(styleAxis);

svg.append("g").attr("transform", `translate(0,${frame.bottom})`)
    .call(d3.axisBottom(x).tickValues(monthStarts).tickSize(-9).tickPadding(10)
        .tickFormat((d, i) => months[i] || ""))
    .call(styleAxis)
    .selectAll("text").attr("font-size", 17);

svg.append("g").attr("transform", `translate(0,${frame.top})`)
    .call(d3.axisTop(x).tickValues(monthStarts).tickSize(-9).tickFormat(""))
    .call(styleAxis);

// frame
svg.append("rect")
    .attr("x", frame.left + 0.5).attr("y", frame.top + 0.5)
    .attr("width", frame.right - frame.left - 1).attr("height", frame.bottom - frame.top - 1)
    .attr("fill", "none").attr("stroke", "#000").attr("stroke-width", 1);

// station labels
svg.append("g").selectAll("text")
    .data(stations)
    .enter().append("text")
    .attr("transform", (d, k) => `translate(1210,${y(1000 - panelShift * k) + 2}) rotate(90)`)
    .attr("text-anchor", "middle")
    .attr("dominant-baseline", "central")
    .attr("font-size", 18)
    .text(d => "Station: " + d);

// title
svg.append("text")
    .attr("x", (frame.left + frame.right) / 2)
    .attr("y", 23)
    .attr("text-anchor", "middle")
    .attr("font-size", 14)
    .text("Atmospheric pressure [hPa]");
</script>
</body>
</html>
